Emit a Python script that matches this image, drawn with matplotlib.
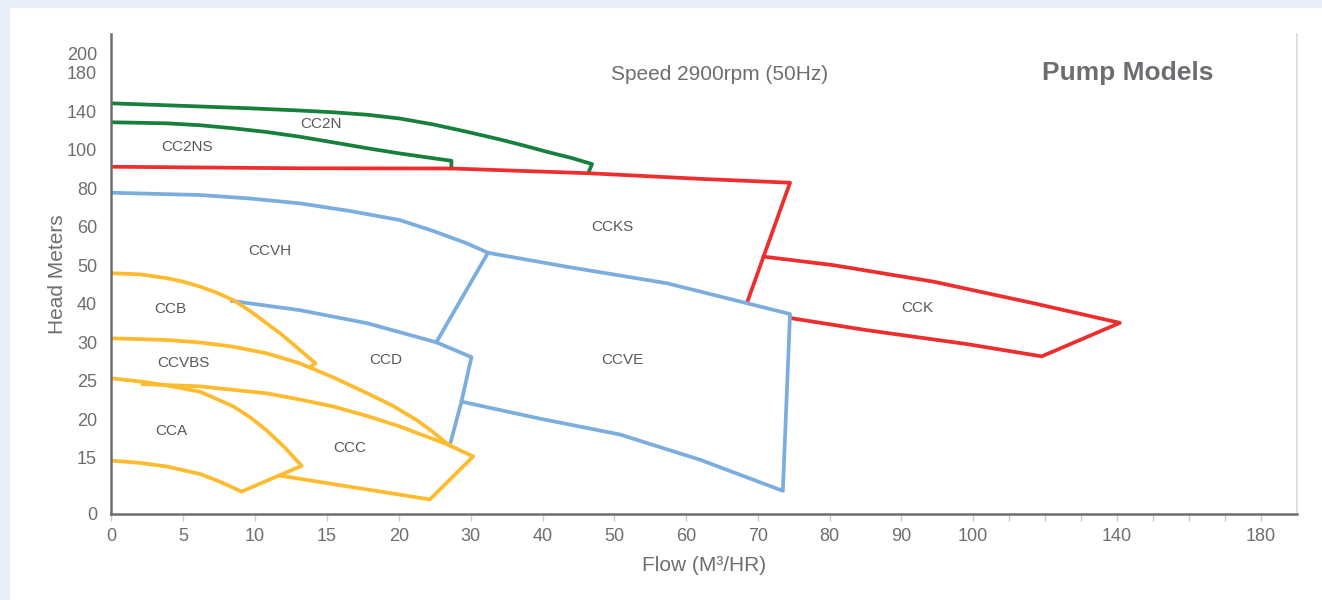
import numpy as np
import matplotlib
matplotlib.use('Agg')
import matplotlib.pyplot as plt
from matplotlib.patches import Rectangle

# axis tick values (the chart uses a stretched, uneven scale)
x_ticks = [0, 5, 10, 15, 20, 30, 40, 50, 60, 70, 80, 90, 100, 110, 120, 130, 140, 150, 160, 170, 180]
x_labels = ['0', '5', '10', '15', '20', '30', '40', '50', '60', '70', '80', '90', '100',
            '', '', '', '140', '', '', '', '180']
y_ticks = [0, 15, 20, 25, 30, 40, 50, 60, 80, 100, 140, 180, 200]

# pump curves: flow (m3/hr) and head (m)
cc2n_flow = [0, 6.2, 9.65, 13.1, 15.4, 17.8, 20.1, 24.8, 29.3, 34.1, 37.6, 41.0, 44.1, 46.9, 46.4]
cc2n_head = [148.5, 145.2, 143.3, 141.0, 139.2, 136.6, 132.7, 126.5, 119.2, 110.9, 104.2, 98.7, 95.8, 92.7, 88.2]
cc2ns_flow = [0, 3.9, 6.2, 8.5, 10.8, 13.1, 15.4, 17.8, 20.1, 24.8, 27.3, 27.3]
cc2ns_head = [128.8, 127.7, 125.7, 122.5, 118.7, 113.8, 108.0, 101.8, 98.2, 95.7, 94.4, 90.5]

ccks_flow = [0, 13.1, 27.3, 46.6, 62.0, 74.5, 68.5]
ccks_head = [91.3, 90.5, 90.4, 87.9, 85.0, 83.0, 40.3]
cck_flow = [70.8, 80.5, 94.5, 116.8, 140.8, 119.1, 99.1, 85.2, 74.7]
cck_head = [52.3, 50.1, 45.8, 40.2, 35.1, 28.2, 29.8, 33.2, 36.3]

ccvh_flow = [0, 6.2, 9.65, 13.1, 16.6, 20.1, 24.7, 29.4, 32.4, 25.2]
ccvh_head = [77.8, 76.6, 74.8, 72.3, 68.3, 63.6, 59.0, 55.8, 53.3, 30.05]
ccve_flow = [32.4, 43.3, 57.3, 68.5, 74.5, 73.5, 62.0, 50.8, 39.7, 28.8]
ccve_head = [53.3, 49.7, 45.4, 40.2, 37.4, 6.2, 14.5, 18.05, 20.1, 22.3]
ccd_flow = [8.4, 13.1, 17.8, 25.2, 30.1, 28.7, 27.1]
ccd_head = [40.8, 38.4, 35.0, 30.05, 28.1, 22.3, 16.7]

ccb_flow = [0, 2.0, 3.9, 5.0, 6.2, 7.3, 8.5, 9.65, 10.8, 11.7, 12.7, 14.2, 13.8]
ccb_head = [48.0, 47.7, 46.7, 45.8, 44.5, 43.0, 41.0, 38.2, 35.0, 32.5, 29.7, 27.3, 26.8]
ccvbs_flow = [0, 3.9, 6.2, 8.5, 10.8, 13.1, 15.4, 17.8, 19.6, 22.5, 24.7, 26.65, 27.1]
ccvbs_head = [31.1, 30.65, 30.0, 29.45, 28.6, 27.3, 25.5, 23.4, 21.75, 19.9, 18.4, 16.9, 16.7]
ccc_flow = [2.2, 6.2, 10.8, 13.1, 15.4, 17.8, 20.1, 26.65, 30.35, 24.3, 11.85]
ccc_head = [24.6, 24.3, 23.4, 22.6, 21.7, 20.45, 19.1, 16.8, 15.2, 3.9, 10.2]
cca_flow = [0, 2.2, 4.1, 6.2, 8.5, 9.65, 10.8, 12.1, 13.24, 9.07, 7.6, 6.2, 3.9, 2.0, 0]
cca_head = [25.35, 24.9, 24.35, 23.6, 21.7, 20.3, 18.6, 16.3, 12.9, 6.0, 8.6, 10.7, 12.7, 13.7, 14.3]

# model names and where they sit (flow, head)
model_names = ['CC2N', 'CC2NS', 'CCKS', 'CCVH', 'CCK', 'CCB', 'CCD', 'CCVE', 'CCVBS', 'CCA', 'CCC']
model_flow = [14.6, 5.3, 49.7, 11.0, 92.2, 4.1, 19.1, 51.1, 5.0, 4.2, 16.6]
model_head = [127, 103, 60, 53.8, 39, 38.7, 27.7, 27.7, 27.3, 18.5, 16.3]

GREEN = '#17803d'
RED = '#ee2e2e'
BLUE = '#7badde'
YELLOW = '#fdbb2d'
GREY = '#6d6e71'

# piecewise scales used by the printed chart
xk_data = [-50, 0, 20, 100, 300]
xk_pos = [-720, 0, 288, 862, 1582]
yk_data = [-50, 0, 15, 20, 25, 30, 40, 50, 60, 80, 100, 140, 180, 200, 300]
yk_pos = [-186.7, 0, 56, 94.5, 133, 171.5, 210, 248.5, 287, 325.5, 364, 402.5, 441, 460.25, 556.5]


def x_fwd(v):
	return np.interp(v, xk_data, xk_pos)


def x_inv(v):
	return np.interp(v, xk_pos, xk_data)


def y_fwd(v):
	return np.interp(v, yk_data, yk_pos)


def y_inv(v):
	return np.interp(v, yk_pos, yk_data)


plt.rcParams['font.family'] = ['Liberation Sans', 'DejaVu Sans']

fig = plt.figure(figsize=(13.22, 6), dpi=100)
fig.patches.append(Rectangle((0, 593 / 600), 1, 7 / 600, transform=fig.transFigure,
                             color='#e6eef8', zorder=-5))
fig.patches.append(Rectangle((0, 0), 9 / 1322, 1, transform=fig.transFigure,
                             color='#e6eef8', zorder=-5))

ax = fig.add_axes([111 / 1322, 86 / 600, 1186 / 1322, 480 / 600])
ax.set_xscale('function', functions=(x_fwd, x_inv))
ax.set_yscale('function', functions=(y_fwd, y_inv))
ax.set_xlim(0, 190)
ax.set_ylim(0, 220.5)

lw = 2.7
ax.plot(cc2n_flow, cc2n_head, color=GREEN, lw=lw)
ax.plot(cc2ns_flow, cc2ns_head, color=GREEN, lw=lw)
ax.plot(ccks_flow, ccks_head, color=RED, lw=lw)
ax.plot(cck_flow, cck_head, color=RED, lw=lw)
ax.plot(ccvh_flow, ccvh_head, color=BLUE, lw=lw)
ax.plot(ccve_flow, ccve_head, color=BLUE, lw=lw)
ax.plot(ccd_flow, ccd_head, color=BLUE, lw=lw)
ax.plot(ccb_flow, ccb_head, color=YELLOW, lw=lw)
ax.plot(ccvbs_flow, ccvbs_head, color=YELLOW, lw=lw)
ax.plot(ccc_flow, ccc_head, color=YELLOW, lw=lw)
ax.plot(cca_flow, cca_head, color=YELLOW, lw=lw)

for name, fx, hy in zip(model_names, model_flow, model_head):
	ax.text(fx, hy, name, ha='center', va='center', fontsize=11, color='#58595b')

ax.set_xticks(x_ticks)
ax.set_xticklabels(x_labels)
ax.set_yticks(y_ticks)
ax.set_yticklabels([str(v) for v in y_ticks])
ax.xaxis.set_minor_locator(matplotlib.ticker.NullLocator())
ax.yaxis.set_minor_locator(matplotlib.ticker.NullLocator())
ax.tick_params(axis='x', length=5, width=1, color='#c8c8c8', labelsize=13, labelcolor=GREY, pad=5)
ax.tick_params(axis='y', length=0, labelsize=13, labelcolor=GREY, pad=10)

ax.spines['top'].set_visible(False)
ax.spines['left'].set_color(GREY)
ax.spines['left'].set_linewidth(1.8)
ax.spines['bottom'].set_color(GREY)
ax.spines['bottom'].set_linewidth(1.8)
ax.spines['right'].set_color('#d9d9d9')
ax.spines['right'].set_linewidth(1.2)

ax.set_xlabel('Flow (M³/HR)', fontsize=15, color=GREY, labelpad=8)
ax.set_ylabel('Head Meters', fontsize=15, color=GREY, labelpad=0)

fig.text(720 / 1322, 1 - 74 / 600, 'Speed 2900rpm (50Hz)', ha='center', va='center',
         fontsize=15, color=GREY)
fig.text(1128 / 1322, 1 - 73 / 600, 'Pump Models', ha='center', va='center',
         fontsize=19, color=GREY, fontweight='bold')

fig.savefig('out.png', dpi=100)
